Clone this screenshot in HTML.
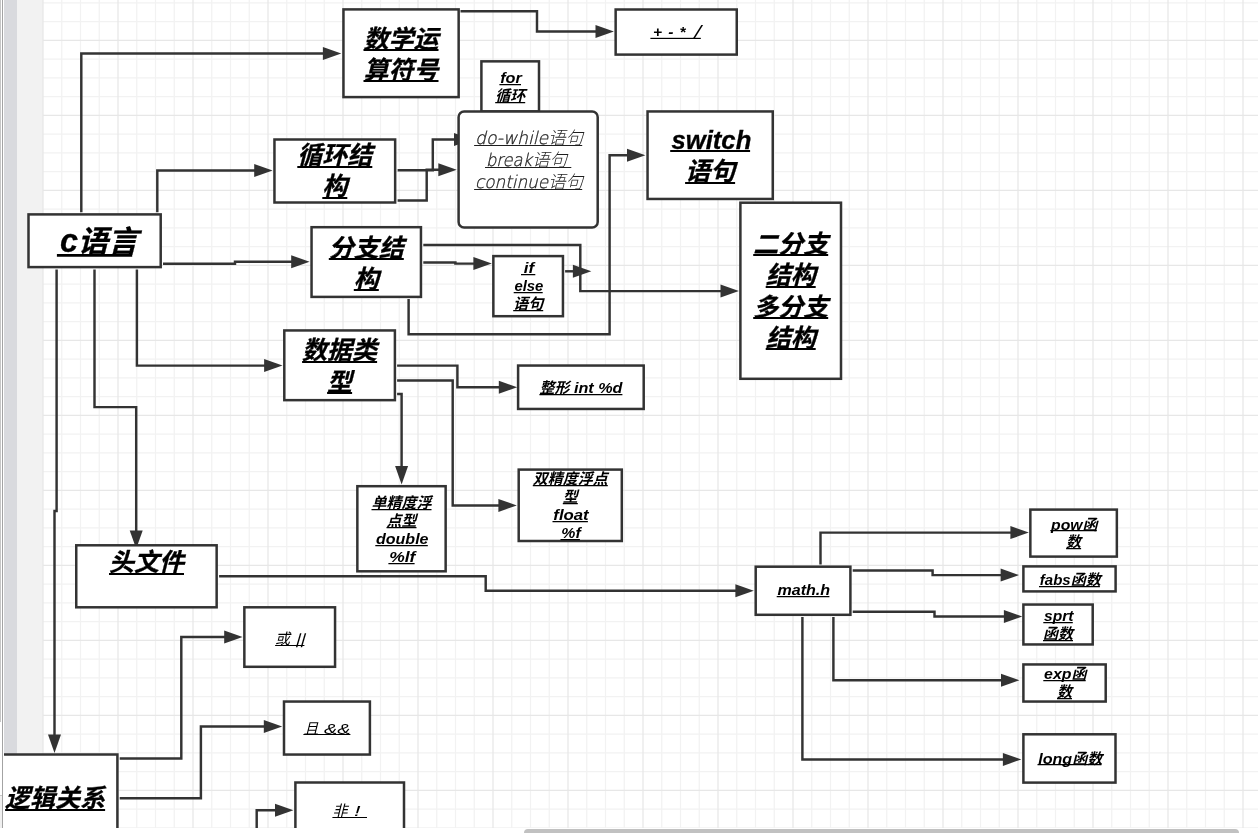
<!DOCTYPE html>
<html lang="zh-CN">
<head>
<meta charset="utf-8">
<title>c语言</title>
<style>
html,body{margin:0;padding:0;background:#fff;overflow:hidden}
body{width:1258px;height:833px;position:relative;font-family:"Liberation Sans","Noto Sans CJK SC",sans-serif}
#stage{position:absolute;left:0;top:0;width:1258px;height:827.5px;overflow:hidden;background:#fff}
svg{position:absolute;left:0;top:0;display:block}
#dg{filter:grayscale(1)}
svg text{font-family:"Liberation Sans","Noto Sans CJK SC",sans-serif;font-style:italic;text-anchor:start}
svg text.hb{stroke:#000;stroke-width:0.3px}
svg tspan.lt{font-family:"DejaVu Sans Light","DejaVu Sans","Liberation Sans","Noto Sans CJK SC",sans-serif;font-weight:200;stroke:#222;stroke-width:0.3px}
#sb{position:absolute;left:524px;top:829px;width:715px;height:8px;border-radius:4px;background:#c1c1c1}
</style>
</head>
<body>
<div id="stage">
<svg width="1258" height="828" viewBox="0 0 1258 828">
<!-- left ruler / margin -->
<rect x="0" y="0" width="1" height="722" fill="#c6c6c6"/>
<rect x="0" y="796" width="2" height="40" fill="#f0f0f0"/>
<rect x="0" y="795" width="3" height="1" fill="#c8c8c8"/>
<rect x="2" y="0" width="1" height="828" fill="#a3a3a3"/>
<rect x="4" y="0" width="13" height="828" fill="#d9dade"/>
<rect x="17" y="0" width="26" height="828" fill="#f2f2f2"/>
<!-- grid -->
<path d="M61.75 0V828M80.50 0V828M99.25 0V828M136.75 0V828M155.50 0V828M174.25 0V828M211.75 0V828M230.50 0V828M249.25 0V828M286.75 0V828M305.50 0V828M324.25 0V828M361.75 0V828M380.50 0V828M399.25 0V828M436.75 0V828M455.50 0V828M474.25 0V828M511.75 0V828M530.50 0V828M549.25 0V828M586.75 0V828M605.50 0V828M624.25 0V828M661.75 0V828M680.50 0V828M699.25 0V828M736.75 0V828M755.50 0V828M774.25 0V828M811.75 0V828M830.50 0V828M849.25 0V828M886.75 0V828M905.50 0V828M924.25 0V828M961.75 0V828M980.50 0V828M999.25 0V828M1036.75 0V828M1055.50 0V828M1074.25 0V828M1111.75 0V828M1130.50 0V828M1149.25 0V828M1186.75 0V828M1205.50 0V828M1224.25 0V828M43 2.90H1258M43 21.65H1258M43 59.15H1258M43 77.90H1258M43 96.65H1258M43 134.15H1258M43 152.90H1258M43 171.65H1258M43 209.15H1258M43 227.90H1258M43 246.65H1258M43 284.15H1258M43 302.90H1258M43 321.65H1258M43 359.15H1258M43 377.90H1258M43 396.65H1258M43 434.15H1258M43 452.90H1258M43 471.65H1258M43 509.15H1258M43 527.90H1258M43 546.65H1258M43 584.15H1258M43 602.90H1258M43 621.65H1258M43 659.15H1258M43 677.90H1258M43 696.65H1258M43 734.15H1258M43 752.90H1258M43 771.65H1258M43 809.15H1258M43 827.90H1258" stroke="#f2f2f2" stroke-width="1.25" fill="none"/>
<path d="M43.00 0V828M118.00 0V828M193.00 0V828M268.00 0V828M343.00 0V828M418.00 0V828M493.00 0V828M568.00 0V828M643.00 0V828M718.00 0V828M793.00 0V828M868.00 0V828M943.00 0V828M1018.00 0V828M1093.00 0V828M1168.00 0V828M1243.00 0V828M43 40.40H1258M43 115.40H1258M43 190.40H1258M43 265.40H1258M43 340.40H1258M43 415.40H1258M43 490.40H1258M43 565.40H1258M43 640.40H1258M43 715.40H1258M43 790.40H1258" stroke="#e7e7e7" stroke-width="1.25" fill="none"/>
</svg>
<svg id="dg" width="1258" height="828" viewBox="0 0 1258 828">
<defs><clipPath id="cv"><rect x="4" y="0" width="1258" height="828"/></clipPath></defs>
<g clip-path="url(#cv)">
<!-- connectors -->

<path d="M81.3 212.2L81.3 53.4L323.9 53.4" fill="none" stroke="#333333" stroke-width="2.45" stroke-linejoin="miter"/><path d="M341.3 53.4L322.9 59.9L322.9 46.9Z" fill="#333333"/>
<path d="M157.3 212.2L157.3 170.5L255.2 170.5" fill="none" stroke="#333333" stroke-width="2.45" stroke-linejoin="miter"/><path d="M272.6 170.5L254.2 177.0L254.2 164.0Z" fill="#333333"/>
<path d="M163.0 263.8L235.0 263.8L235.0 261.7L292.2 261.7" fill="none" stroke="#333333" stroke-width="2.45" stroke-linejoin="miter"/><path d="M309.6 261.7L291.2 268.2L291.2 255.2Z" fill="#333333"/>
<path d="M136.9 269.4L136.9 365.6L265.1 365.6" fill="none" stroke="#333333" stroke-width="2.45" stroke-linejoin="miter"/><path d="M282.5 365.6L264.1 372.1L264.1 359.1Z" fill="#333333"/>
<path d="M94.5 269.4L94.5 407.1L136.2 407.1L136.2 531.4" fill="none" stroke="#333333" stroke-width="2.45" stroke-linejoin="miter"/><path d="M136.2 548.8L129.7 530.4L142.7 530.4Z" fill="#333333"/>
<path d="M56.6 269.4L56.6 511.0L54.5 511.0L54.5 735.6" fill="none" stroke="#333333" stroke-width="2.45" stroke-linejoin="miter"/><path d="M54.5 753.0L48.0 734.6L61.0 734.6Z" fill="#333333"/>
<path d="M460.5 11.2L537.0 11.2L537.0 31.5L596.5 31.5" fill="none" stroke="#333333" stroke-width="2.45" stroke-linejoin="miter"/><path d="M613.9 31.5L595.5 38.0L595.5 25.0Z" fill="#333333"/>
<path d="M397.6 170.3L432.8 170.3L432.8 139.5L455.0 139.5" fill="none" stroke="#333333" stroke-width="2.45" stroke-linejoin="miter"/><path d="M472.4 139.5L454.0 146.0L454.0 133.0Z" fill="#333333"/>
<path d="M397.6 200.4L426.7 200.4L426.7 169.7L439.3 169.7" fill="none" stroke="#333333" stroke-width="2.45" stroke-linejoin="miter"/><path d="M456.7 169.7L438.3 176.2L438.3 163.2Z" fill="#333333"/>
<path d="M423.3 245.0L580.3 245.0L580.3 291.1L721.5 291.1" fill="none" stroke="#333333" stroke-width="2.45" stroke-linejoin="miter"/><path d="M738.9 291.1L720.5 297.6L720.5 284.6Z" fill="#333333"/>
<path d="M423.3 262.4L455.4 262.4L455.4 263.6L474.4 263.6" fill="none" stroke="#333333" stroke-width="2.45" stroke-linejoin="miter"/><path d="M491.8 263.6L473.4 270.1L473.4 257.1Z" fill="#333333"/>
<path d="M565.1 271.3L573.9 271.3" fill="none" stroke="#333333" stroke-width="2.45" stroke-linejoin="miter"/><path d="M591.3 271.3L572.9 277.8L572.9 264.8Z" fill="#333333"/>
<path d="M408.6 299.1L408.6 334.2L609.6 334.2L609.6 155.2L628.0 155.2" fill="none" stroke="#333333" stroke-width="2.45" stroke-linejoin="miter"/><path d="M645.4 155.2L627.0 161.7L627.0 148.7Z" fill="#333333"/>
<path d="M397.1 365.6L457.4 365.6L457.4 387.2L499.8 387.2" fill="none" stroke="#333333" stroke-width="2.45" stroke-linejoin="miter"/><path d="M517.2 387.2L498.8 393.7L498.8 380.7Z" fill="#333333"/>
<path d="M397.1 380.4L452.7 380.4L452.7 505.4L499.4 505.4" fill="none" stroke="#333333" stroke-width="2.45" stroke-linejoin="miter"/><path d="M516.8 505.4L498.4 511.9L498.4 498.9Z" fill="#333333"/>
<path d="M397.1 394.0L401.6 394.0L401.6 467.0" fill="none" stroke="#333333" stroke-width="2.45" stroke-linejoin="miter"/><path d="M401.6 484.4L395.1 466.0L408.1 466.0Z" fill="#333333"/>
<path d="M219.1 576.2L485.7 576.2L485.7 590.7L736.4 590.7" fill="none" stroke="#333333" stroke-width="2.45" stroke-linejoin="miter"/><path d="M753.8 590.7L735.4 597.2L735.4 584.2Z" fill="#333333"/>
<path d="M820.5 564.4L820.5 532.6L1011.4 532.6" fill="none" stroke="#333333" stroke-width="2.45" stroke-linejoin="miter"/><path d="M1028.8 532.6L1010.4 539.1L1010.4 526.1Z" fill="#333333"/>
<path d="M852.7 570.4L932.6 570.4L932.6 575.1L1001.6 575.1" fill="none" stroke="#333333" stroke-width="2.45" stroke-linejoin="miter"/><path d="M1019.0 575.1L1000.6 581.6L1000.6 568.6Z" fill="#333333"/>
<path d="M852.7 611.8L934.5 611.8L934.5 616.4L1004.9 616.4" fill="none" stroke="#333333" stroke-width="2.45" stroke-linejoin="miter"/><path d="M1022.3 616.4L1003.9 622.9L1003.9 609.9Z" fill="#333333"/>
<path d="M833.4 617.1L833.4 680.2L1002.0 680.2" fill="none" stroke="#333333" stroke-width="2.45" stroke-linejoin="miter"/><path d="M1019.4 680.2L1001.0 686.7L1001.0 673.7Z" fill="#333333"/>
<path d="M802.4 617.1L802.4 759.4L1003.9 759.4" fill="none" stroke="#333333" stroke-width="2.45" stroke-linejoin="miter"/><path d="M1021.3 759.4L1002.9 765.9L1002.9 752.9Z" fill="#333333"/>
<path d="M119.7 758.5L181.3 758.5L181.3 636.9L225.2 636.9" fill="none" stroke="#333333" stroke-width="2.45" stroke-linejoin="miter"/><path d="M242.6 636.9L224.2 643.4L224.2 630.4Z" fill="#333333"/>
<path d="M119.7 798.3L200.9 798.3L200.9 726.4L264.8 726.4" fill="none" stroke="#333333" stroke-width="2.45" stroke-linejoin="miter"/><path d="M282.2 726.4L263.8 732.9L263.8 719.9Z" fill="#333333"/>
<path d="M256.7 837.7L256.7 810.3L276.0 810.3" fill="none" stroke="#333333" stroke-width="2.45" stroke-linejoin="miter"/><path d="M293.4 810.3L275.0 816.8L275.0 803.8Z" fill="#333333"/>
<!-- shapes -->
<rect x="343.45" y="9.4" width="115.2" height="87.7" fill="#fff" stroke="#333333" stroke-width="2.5"/>
<text class="hb" y="47.5" font-size="25" font-weight="bold" fill="#000" xml:space="preserve"><tspan x="363.52">数学运</tspan></text>
<rect x="363.5" y="49" width="75.0" height="2.0" fill="#000"/>
<text class="hb" y="78.5" font-size="25" font-weight="bold" fill="#000" xml:space="preserve"><tspan x="363.52">算符号</tspan></text>
<rect x="363.5" y="80" width="75.0" height="2.0" fill="#000"/>
<rect x="615.65" y="9.5" width="121.1" height="45.1" fill="#fff" stroke="#333333" stroke-width="2.5"/>
<rect x="481.4" y="61.35" width="57.6" height="50.1" fill="#fff" stroke="#333333" stroke-width="2.5"/>
<text y="83.0" font-size="15" font-weight="bold" fill="#000" xml:space="preserve"><tspan x="500.17" textLength="21.60" lengthAdjust="spacingAndGlyphs">for</tspan></text>
<rect x="499.4" y="84" width="21.6" height="1.25" fill="#000"/>
<text y="101.0" font-size="15" font-weight="bold" fill="#000" xml:space="preserve"><tspan x="495.22">循环</tspan></text>
<rect x="495.2" y="102" width="30.0" height="1.25" fill="#000"/>
<rect x="458.6" y="111.4" width="139.1" height="116.1" rx="5.5" fill="#fff" stroke="#333333" stroke-width="2.5"/>
<text y="144.0" font-size="17.5" font-weight="300" fill="#1e1e1e" xml:space="preserve"><tspan class="lt" x="475.00" textLength="73.10" lengthAdjust="spacingAndGlyphs">do-while</tspan><tspan x="548.10">语句</tspan></text>
<rect x="474.1" y="145" width="108.1" height="1.0" fill="#1e1e1e"/>
<text y="165.8" font-size="17.5" font-weight="300" fill="#1e1e1e" xml:space="preserve"><tspan class="lt" x="485.90" textLength="46.12" lengthAdjust="spacingAndGlyphs">break</tspan><tspan x="532.02">语句</tspan><tspan class="lt" x="567.02" textLength="5.18" lengthAdjust="spacingAndGlyphs"> </tspan></text>
<rect x="485.0" y="167" width="86.3" height="1.0" fill="#1e1e1e"/>
<text y="187.7" font-size="17.5" font-weight="300" fill="#1e1e1e" xml:space="preserve"><tspan class="lt" x="475.00" textLength="73.10" lengthAdjust="spacingAndGlyphs">continue</tspan><tspan x="548.10">语句</tspan></text>
<rect x="474.1" y="189" width="108.1" height="1.0" fill="#1e1e1e"/>
<rect x="647.55" y="111.45" width="125.2" height="87.5" fill="#fff" stroke="#333333" stroke-width="2.5"/>
<text class="hb" y="149.0" font-size="25" font-weight="bold" fill="#000" xml:space="preserve"><tspan x="671.45" textLength="79.90" lengthAdjust="spacingAndGlyphs">switch</tspan></text>
<rect x="670.2" y="150" width="79.9" height="2.0" fill="#000"/>
<text class="hb" y="180.2" font-size="25" font-weight="bold" fill="#000" xml:space="preserve"><tspan x="685.15">语句</tspan></text>
<rect x="685.1" y="182" width="50.0" height="2.0" fill="#000"/>
<rect x="274.45" y="139.5" width="120.7" height="63.0" fill="#fff" stroke="#333333" stroke-width="2.5"/>
<text class="hb" y="164.1" font-size="25" font-weight="bold" fill="#000" xml:space="preserve"><tspan x="297.30">循环结</tspan></text>
<rect x="297.3" y="166" width="75.0" height="2.0" fill="#000"/>
<text class="hb" y="195.4" font-size="25" font-weight="bold" fill="#000" xml:space="preserve"><tspan x="322.30">构</tspan></text>
<rect x="322.3" y="197" width="25.0" height="2.0" fill="#000"/>
<rect x="28.5" y="214.4" width="132.2" height="52.7" fill="#fff" stroke="#333333" stroke-width="2.5"/>
<text class="hb" y="252.2" font-size="30" font-weight="bold" fill="#000" xml:space="preserve"><tspan x="59.93" font-size="32.40">c</tspan><tspan x="77.94">语言</tspan></text>
<rect x="56.9" y="254" width="75.3" height="2.75" fill="#000"/>
<rect x="311.55" y="227.2" width="109.4" height="69.7" fill="#fff" stroke="#333333" stroke-width="2.5"/>
<text class="hb" y="256.6" font-size="25" font-weight="bold" fill="#000" xml:space="preserve"><tspan x="328.77">分支结</tspan></text>
<rect x="328.8" y="258" width="75.0" height="2.0" fill="#000"/>
<text class="hb" y="287.8" font-size="25" font-weight="bold" fill="#000" xml:space="preserve"><tspan x="353.77">构</tspan></text>
<rect x="353.8" y="289" width="25.0" height="2.0" fill="#000"/>
<rect x="493.35" y="256.1" width="69.6" height="60.1" fill="#fff" stroke="#333333" stroke-width="2.5"/>
<text y="273.4" font-size="15" font-weight="bold" fill="#000" xml:space="preserve"><tspan x="523.75" textLength="10.30" lengthAdjust="spacingAndGlyphs">if</tspan></text>
<rect x="521.0" y="274" width="14.3" height="1.25" fill="#000"/>
<text y="291.4" font-size="15" font-weight="bold" fill="#000" xml:space="preserve"><tspan x="514.40" textLength="29.00" lengthAdjust="spacingAndGlyphs">else</tspan></text>
<rect x="513.7" y="292" width="29.0" height="1.25" fill="#000"/>
<text y="309.4" font-size="15" font-weight="bold" fill="#000" xml:space="preserve"><tspan x="513.15">语句</tspan></text>
<rect x="513.2" y="310" width="30.0" height="1.25" fill="#000"/>
<rect x="740.4" y="202.7" width="100.6" height="176.1" fill="#fff" stroke="#333333" stroke-width="2.5"/>
<text class="hb" y="252.8" font-size="25" font-weight="bold" fill="#000" xml:space="preserve"><tspan x="753.20">二分支</tspan></text>
<rect x="753.2" y="254" width="75.0" height="2.0" fill="#000"/>
<text class="hb" y="284.1" font-size="25" font-weight="bold" fill="#000" xml:space="preserve"><tspan x="765.70">结构</tspan></text>
<rect x="765.7" y="286" width="50.0" height="2.0" fill="#000"/>
<text class="hb" y="315.5" font-size="25" font-weight="bold" fill="#000" xml:space="preserve"><tspan x="753.20">多分支</tspan></text>
<rect x="753.2" y="317" width="75.0" height="2.0" fill="#000"/>
<text class="hb" y="346.8" font-size="25" font-weight="bold" fill="#000" xml:space="preserve"><tspan x="765.70">结构</tspan></text>
<rect x="765.7" y="348" width="50.0" height="2.0" fill="#000"/>
<rect x="284.3" y="330.45" width="110.6" height="69.7" fill="#fff" stroke="#333333" stroke-width="2.5"/>
<text class="hb" y="359.4" font-size="25" font-weight="bold" fill="#000" xml:space="preserve"><tspan x="302.12">数据类</tspan></text>
<rect x="302.1" y="361" width="75.0" height="2.0" fill="#000"/>
<text class="hb" y="390.5" font-size="25" font-weight="bold" fill="#000" xml:space="preserve"><tspan x="327.12">型</tspan></text>
<rect x="327.1" y="392" width="25.0" height="2.0" fill="#000"/>
<rect x="518.1" y="365.55" width="125.6" height="43.4" fill="#fff" stroke="#333333" stroke-width="2.5"/>
<text y="392.9" font-size="15" font-weight="bold" fill="#000" xml:space="preserve"><tspan x="539.42">整形</tspan><tspan x="569.42" textLength="53.00" lengthAdjust="spacingAndGlyphs"> int %d</tspan></text>
<rect x="539.4" y="394" width="83.0" height="1.25" fill="#000"/>
<rect x="357.35" y="486.2" width="88.3" height="85.1" fill="#fff" stroke="#333333" stroke-width="2.5"/>
<text y="508.0" font-size="15" font-weight="bold" fill="#000" xml:space="preserve"><tspan x="371.52">单精度浮</tspan></text>
<rect x="371.5" y="509" width="60.0" height="1.25" fill="#000"/>
<text y="526.0" font-size="15" font-weight="bold" fill="#000" xml:space="preserve"><tspan x="386.52">点型</tspan></text>
<rect x="386.5" y="527" width="30.0" height="1.25" fill="#000"/>
<text y="544.0" font-size="15" font-weight="bold" fill="#000" xml:space="preserve"><tspan x="376.02" textLength="52.50" lengthAdjust="spacingAndGlyphs">double</tspan></text>
<rect x="375.3" y="545" width="52.5" height="1.25" fill="#000"/>
<text y="562.0" font-size="15" font-weight="bold" fill="#000" xml:space="preserve"><tspan x="389.17" textLength="26.20" lengthAdjust="spacingAndGlyphs">%lf</tspan></text>
<rect x="388.4" y="563" width="26.2" height="1.25" fill="#000"/>
<rect x="518.7" y="469.6" width="103.1" height="71.4" fill="#fff" stroke="#333333" stroke-width="2.5"/>
<text y="483.9" font-size="15" font-weight="bold" fill="#000" xml:space="preserve"><tspan x="532.75">双精度浮点</tspan></text>
<rect x="532.8" y="485" width="75.0" height="1.25" fill="#000"/>
<text y="501.9" font-size="15" font-weight="bold" fill="#000" xml:space="preserve"><tspan x="562.75">型</tspan></text>
<rect x="562.8" y="503" width="15.0" height="1.25" fill="#000"/>
<text y="519.9" font-size="15" font-weight="bold" fill="#000" xml:space="preserve"><tspan x="553.30" textLength="35.40" lengthAdjust="spacingAndGlyphs">float</tspan></text>
<rect x="552.5" y="521" width="35.4" height="1.25" fill="#000"/>
<text y="537.9" font-size="15" font-weight="bold" fill="#000" xml:space="preserve"><tspan x="561.30" textLength="19.40" lengthAdjust="spacingAndGlyphs">%f</tspan></text>
<rect x="560.5" y="539" width="19.4" height="1.25" fill="#000"/>
<rect x="76.25" y="545.3" width="140.4" height="62.0" fill="#fff" stroke="#333333" stroke-width="2.5"/>
<text class="hb" y="571.3" font-size="25" font-weight="bold" fill="#000" xml:space="preserve"><tspan x="108.97">头文件</tspan></text>
<rect x="109.0" y="573" width="75.0" height="2.0" fill="#000"/>
<rect x="755.7" y="566.7" width="94.7" height="48.1" fill="#fff" stroke="#333333" stroke-width="2.5"/>
<text y="595.4" font-size="15" font-weight="bold" fill="#000" xml:space="preserve"><tspan x="777.45" textLength="52.70" lengthAdjust="spacingAndGlyphs">math.h</tspan></text>
<rect x="776.7" y="596" width="52.7" height="1.25" fill="#000"/>
<rect x="1030.35" y="509.6" width="86.5" height="47.0" fill="#fff" stroke="#333333" stroke-width="2.5"/>
<text y="529.6" font-size="15" font-weight="bold" fill="#000" xml:space="preserve"><tspan x="1051.10" textLength="31.50" lengthAdjust="spacingAndGlyphs">pow</tspan><tspan x="1082.60">函</tspan></text>
<rect x="1050.3" y="530" width="46.5" height="1.25" fill="#000"/>
<text y="547.2" font-size="15" font-weight="bold" fill="#000" xml:space="preserve"><tspan x="1066.10">数</tspan></text>
<rect x="1066.1" y="548" width="15.0" height="1.25" fill="#000"/>
<rect x="1023.4" y="566.4" width="92.2" height="25.0" fill="#fff" stroke="#333333" stroke-width="2.5"/>
<text y="584.9" font-size="15" font-weight="bold" fill="#000" xml:space="preserve"><tspan x="1039.80">fabs</tspan><tspan x="1070.70">函数</tspan></text>
<rect x="1039.0" y="586" width="60.9" height="1.25" fill="#000"/>
<rect x="1023.4" y="604.55" width="69.3" height="39.9" fill="#fff" stroke="#333333" stroke-width="2.5"/>
<text y="621.2" font-size="15" font-weight="bold" fill="#000" xml:space="preserve"><tspan x="1044.03" textLength="29.50" lengthAdjust="spacingAndGlyphs">sprt</tspan></text>
<rect x="1043.3" y="622" width="29.5" height="1.25" fill="#000"/>
<text y="639.0" font-size="15" font-weight="bold" fill="#000" xml:space="preserve"><tspan x="1043.03">函数</tspan></text>
<rect x="1043.0" y="640" width="30.0" height="1.25" fill="#000"/>
<rect x="1023.4" y="664.45" width="82.3" height="37.1" fill="#fff" stroke="#333333" stroke-width="2.5"/>
<text y="679.4" font-size="15" font-weight="bold" fill="#000" xml:space="preserve"><tspan x="1044.10" textLength="27.40" lengthAdjust="spacingAndGlyphs">exp</tspan><tspan x="1071.50">函</tspan></text>
<rect x="1043.3" y="680" width="42.4" height="1.25" fill="#000"/>
<text y="697.1" font-size="15" font-weight="bold" fill="#000" xml:space="preserve"><tspan x="1057.05">数</tspan></text>
<rect x="1057.0" y="698" width="15.0" height="1.25" fill="#000"/>
<rect x="1023.4" y="734.3" width="92.1" height="48.3" fill="#fff" stroke="#333333" stroke-width="2.5"/>
<text y="763.6" font-size="15" font-weight="bold" fill="#000" xml:space="preserve"><tspan x="1038.20" textLength="34.00" lengthAdjust="spacingAndGlyphs">long</tspan><tspan x="1072.20">函数</tspan></text>
<rect x="1037.5" y="764" width="64.0" height="1.25" fill="#000"/>
<rect x="244.35" y="607.3" width="90.7" height="59.5" fill="#fff" stroke="#333333" stroke-width="2.5"/>
<text y="644.0" font-size="15" font-weight="400" fill="#000" xml:space="preserve"><tspan x="275.05">或</tspan><tspan x="290.05"> </tspan></text>
<text transform="translate(295.03 644.0) skewX(-16)" font-size="15" font-weight="400" fill="#000" textLength="9.32" lengthAdjust="spacingAndGlyphs">||</text>
<rect x="275.1" y="645" width="29.3" height="1.0" fill="#000"/>
<rect x="284.0" y="701.55" width="85.9" height="53.0" fill="#fff" stroke="#333333" stroke-width="2.5"/>
<text y="733.5" font-size="15" font-weight="400" fill="#000" xml:space="preserve"><tspan x="303.45">且</tspan><tspan x="318.45" textLength="32.00" lengthAdjust="spacingAndGlyphs"> &amp;&amp;</tspan></text>
<rect x="303.4" y="734" width="47.0" height="1.0" fill="#000"/>
<rect x="295.4" y="782.5" width="108.6" height="55.5" fill="#fff" stroke="#333333" stroke-width="2.5"/>
<text y="816.2" font-size="15" font-weight="400" fill="#000" xml:space="preserve"><tspan x="332.40">非</tspan><tspan x="347.40" textLength="13.10" lengthAdjust="spacingAndGlyphs"> !</tspan></text>
<rect x="332.4" y="817" width="34.6" height="1.0" fill="#000"/>
<rect x="-7.3" y="754.5" width="124.7" height="86.5" fill="#fff" stroke="#333333" stroke-width="2.5"/>
<text class="hb" y="807.1" font-size="25" font-weight="bold" fill="#000" xml:space="preserve"><tspan x="5.10">逻辑关系</tspan></text>
<rect x="5.1" y="809" width="100.0" height="2.0" fill="#000"/>
<text y="36.8" font-size="15.5" font-weight="bold" fill="#000" xml:space="preserve"><tspan x="652.9">+</tspan><tspan x="664"> </tspan><tspan x="668.3">-</tspan><tspan x="675"> </tspan><tspan x="679.6">*</tspan><tspan x="688"> </tspan><tspan x="694.4" dy="1.2" font-size="17.5" font-weight="normal" textLength="6.6" lengthAdjust="spacingAndGlyphs">/</tspan></text><rect x="650.4" y="37.80" width="50.4" height="1.2" fill="#000"/>
</g>
</svg>
</div>
<div id="sb"></div>
</body>
</html>
